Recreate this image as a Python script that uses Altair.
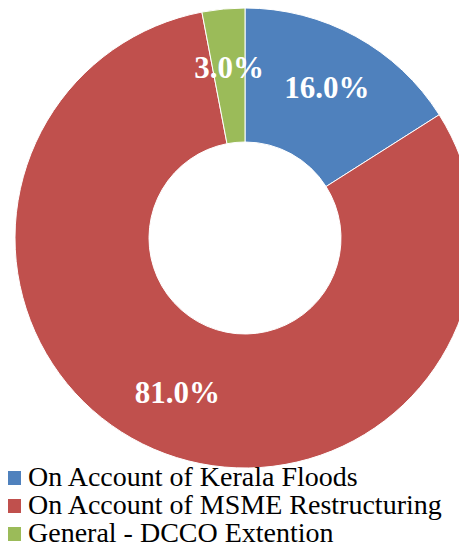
import altair as alt
import pandas as pd

categories = ["On Account of Kerala Floods", "On Account of MSME Restructuring", "General - DCCO Extention"]
values = [16.0, 81.0, 3.0]
labels = ["16.0%", "81.0%", "3.0%"]
colors = ["#4F81BD", "#C0504D", "#9BBB59"]

df = pd.DataFrame({"category": categories, "value": values, "label": labels, "order": [0, 1, 2]})

base = alt.Chart(df).encode(
    theta=alt.Theta("value:Q", stack=True),
    order=alt.Order("order:Q"),
)

arcs = base.mark_arc(outerRadius=230, innerRadius=96, stroke="white", strokeWidth=1).encode(
    x=alt.value(237),
    y=alt.value(230),
    color=alt.Color(
        "category:N",
        sort=categories,
        scale=alt.Scale(domain=categories, range=colors),
        legend=alt.Legend(
            title=None,
            orient="none",
            legendX=-8,
            legendY=456,
            symbolType="square",
            symbolSize=196,
            symbolStrokeWidth=0,
            labelFont="Liberation Serif",
            labelFontSize=28,
            labelColor="black",
            labelOffset=0,
            labelLimit=500,
            rowPadding=0,
            padding=0,
        ),
    ),
)

text = base.mark_text(
    radius=170, font="Liberation Serif", fontSize=31, fontWeight="bold", color="white",
    align="center", baseline="middle",
).encode(
    x=alt.value(237),
    y=alt.value(230),
    text="label:N",
)

chart = (arcs + text).properties(
    width=451, height=543, autosize=alt.AutoSizeParams(type="none"), padding=0
).configure_view(stroke=None)

chart.save("out.html", embed_options={"renderer": "svg", "actions": False})
